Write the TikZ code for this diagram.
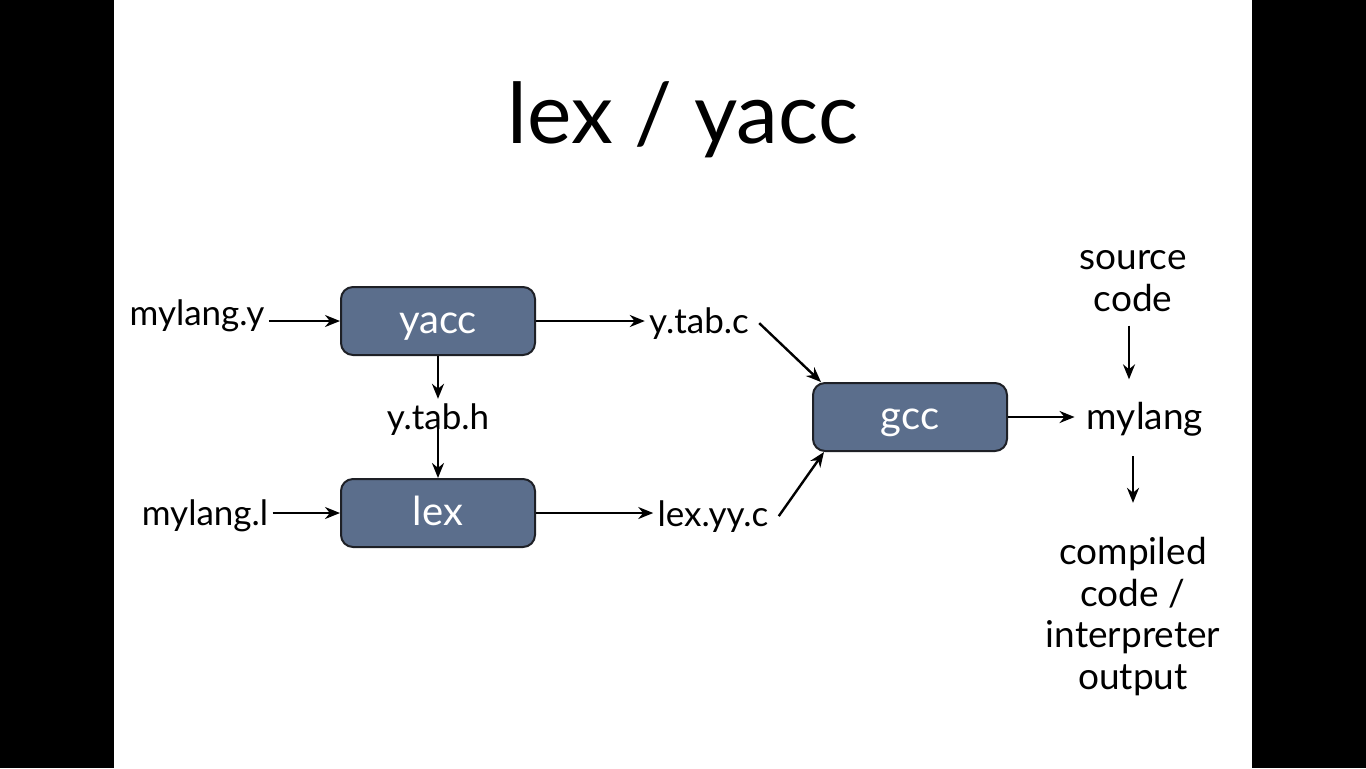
\documentclass[tikz,border=0pt]{standalone}
\usepackage{fontspec}
\setmainfont{Lato}
\usetikzlibrary{arrows.meta}
\definecolor{boxblue}{RGB}{91,110,140}
\definecolor{boxline}{RGB}{30,32,38}

\begin{document}
\begin{tikzpicture}[x=0.5pt, y=-0.5pt,
  >={Stealth[length=7.5pt,width=6pt]},
  tool/.style={draw=boxline, line width=1pt, fill=boxblue, rounded corners=6pt, minimum width=97pt, minimum height=34pt, text=white, text height=12.5pt, text depth=0pt, font=\fontsize{20}{24}\selectfont},
  file/.style={font=\fontsize{17.5}{20.75}\selectfont, align=center, inner sep=2pt},
  stage/.style={font=\fontsize{18.5}{20.75}\selectfont, align=center, inner sep=2pt},
  flow/.style={->, line width=1.2pt}
]
% slide with black side bars
\fill[black] (0,0) rectangle (1366,768);
\fill[white] (114,0) rectangle (1252,768);
\useasboundingbox (0,0) rectangle (1366,768);

\node[font=\fontsize{42}{46}\selectfont, anchor=base] (title) at (683,143) {lex / yacc};

% tools
\node[tool] (yacc) at (438,321) {yacc};
\node[tool] (lex) at (438,513) {lex};
\node[tool] (gcc) at (910,417) {gcc};

% files
\node[file, anchor=base] (mylangy) at (197,325) {mylang.y};
\node[file, anchor=base] (mylangl) at (205,525) {mylang.l};
\node[file, anchor=base] (ytabc) at (699,333) {y.tab.c};
\node[file, anchor=base] (ytabh) at (438,429) {y.tab.h};
\node[file, anchor=base] (lexyyc) at (713,526) {lex.yy.c};
\node[stage, anchor=base] (mylang) at (1145,429) {mylang};
\node[stage, anchor=base] (src) at (1133,311) {source\\code};
\node[stage, anchor=base] (out) at (1133,689) {compiled\\code /\\interpreter\\output};

\draw[flow] (mylangy.east |- yacc.west) -- (yacc.west);
\draw[flow] (mylangl.east |- lex.west) -- (lex.west);
\draw[flow] (yacc.east) -- (ytabc.west |- yacc.east);
\draw[flow] (lex.east) -- (lexyyc.west |- lex.east);
\draw[flow] (yacc.south) -- (ytabh.north);
\draw[flow] ([yshift=5.5pt]ytabh.south) -- (lex.north);
\draw[flow] ([xshift=3pt]ytabc.east) -- ([xshift=4.5pt]gcc.north west);
\draw[flow] ([xshift=3pt]lexyyc.east) -- ([xshift=6pt]gcc.south west);
\draw[flow, shorten >=4pt] (gcc.east) -- (mylang.west |- gcc.east);
\draw[flow, shorten <=5pt, shorten >=9pt] ([xshift=-2pt]src.south) -- ([xshift=-2pt]src.south |- mylang.north);
\draw[flow, shorten <=8pt, shorten >=15pt] (out.north |- mylang.south) -- (out.north);
\end{tikzpicture}
\end{document}
